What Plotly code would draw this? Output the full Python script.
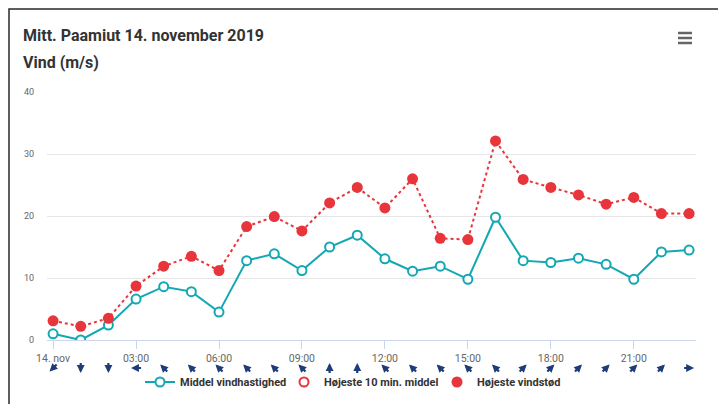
import math
import plotly.graph_objects as go

# ---------------- data ----------------
hours = list(range(24))
middel = [1.0, 0.0, 2.4, 6.6, 8.6, 7.8, 4.5, 12.8, 13.9, 11.2, 15.0, 16.9,
          13.1, 11.1, 11.9, 9.8, 19.8, 12.8, 12.5, 13.2, 12.2, 9.8, 14.2, 14.5]
vindstod = [3.1, 2.2, 3.5, 8.7, 11.9, 13.5, 11.2, 18.3, 19.9, 17.6, 22.1, 24.6,
            21.3, 26.0, 16.4, 16.2, 32.1, 25.9, 24.6, 23.4, 21.9, 23.0, 20.4, 20.4]
# direction each wind arrow points (compass bearing, degrees)
arrow_dir = [225, 180, 180, 270, 315, 315, 315, 315, 315, 315, 0, 0,
             315, 315, 315, 315, 315, 45, 45, 45, 45, 45, 45, 90]
tick_vals = [0, 3, 6, 9, 12, 15, 18, 21]
tick_text = ["14. nov", "03:00", "06:00", "09:00", "12:00", "15:00", "18:00", "21:00"]
y_ticks = [0, 10, 20, 30, 40]

title1 = "Mitt. Paamiut 14. november 2019"
title2 = "Vind (m/s)"
names = ["Middel vindhastighed", "Højeste 10 min. middel", "Højeste vindstød"]

# ---------------- style ----------------
OFF = 8                      # page body margin
W, H = 726 - OFF, 404 - OFF
ML, MR, MT, MB = 47 - OFF, 30, 92 - OFF, 64
PW, PH = W - ML - MR, H - MT - MB
TEAL = "#12a8b3"
RED = "#e8353b"
NAVY = "#1d3c78"
FONT = "Roboto, Arial, sans-serif"


def px(x):
    """screen x pixel -> paper coordinate"""
    return (x - OFF - ML) / PW


def py(y):
    """screen y pixel -> paper coordinate"""
    return (H - MB - (y - OFF)) / PH


fig = go.Figure()

fig.add_trace(go.Scatter(
    x=hours, y=vindstod, mode="lines", showlegend=False, hoverinfo="skip",
    line=dict(color=RED, width=2, dash="dot")))
fig.add_trace(go.Scatter(
    x=hours, y=middel, mode="lines+markers", name=names[0], legend="legend",
    line=dict(color=TEAL, width=2),
    marker=dict(symbol="circle", size=9, color="white", line=dict(color=TEAL, width=2))))
fig.add_trace(go.Scatter(
    x=[None], y=[None], mode="markers", name=names[1], legend="legend2",
    marker=dict(symbol="circle", size=9, color="white", line=dict(color=RED, width=2))))
fig.add_trace(go.Scatter(
    x=hours, y=vindstod, mode="markers", name=names[2], legend="legend3",
    marker=dict(symbol="circle", size=11, color=RED, line=dict(width=0))))

annotations = [
    dict(text=f"<b>{title1}</b>", xref="paper", yref="paper", x=px(21), y=py(36),
         xanchor="left", yanchor="middle", showarrow=False,
         font=dict(family=FONT, size=16, color="#333333")),
    dict(text=f"<b>{title2}</b>", xref="paper", yref="paper", x=px(21), y=py(62),
         xanchor="left", yanchor="middle", showarrow=False,
         font=dict(family=FONT, size=16, color="#333333")),
]

L = 10
for h, d in zip(hours, arrow_dir):
    sx = math.sin(math.radians(d))
    cy = math.cos(math.radians(d))
    annotations.append(dict(
        x=h, y=py(368), xref="x", yref="paper", text="", showarrow=True,
        font=dict(size=1), borderpad=0, borderwidth=0,
        ax=-L * sx, ay=L * cy, axref="pixel", ayref="pixel",
        xshift=L / 2 * sx, yshift=L / 2 * cy,
        arrowhead=2, arrowsize=0.72, arrowwidth=2.2, arrowcolor=NAVY, standoff=0))

shapes = [
    # container frame and shadow
    dict(type="rect", xref="paper", yref="paper", x0=px(720), x1=px(727), y0=py(12), y1=py(410),
         fillcolor="#9a9a9a", line=dict(width=0), layer="below"),
    dict(type="rect", xref="paper", yref="paper", x0=px(9), x1=px(719.5), y0=py(9), y1=py(410),
         fillcolor="rgba(0,0,0,0)", line=dict(color="#2a2a2a", width=1.5)),
]
# hamburger menu icon
for yy in (33, 38, 43):
    shapes.append(dict(type="line", xref="paper", yref="paper", x0=px(678), x1=px(692),
                       y0=py(yy), y1=py(yy), line=dict(color="#666666", width=2.5)))


def leg(left_px):
    return dict(orientation="h", xref="container", yref="container",
                x=(left_px - OFF) / W, xanchor="left",
                y=(H - (382 - OFF)) / H, yanchor="middle",
                font=dict(family=FONT, size=11, color="#333333", weight="bold"),
                itemwidth=30, bgcolor="rgba(0,0,0,0)")


fig.update_layout(
    width=W, height=H,
    margin=dict(l=ML, r=MR, t=MT, b=MB, autoexpand=False),
    paper_bgcolor="white", plot_bgcolor="white",
    font=dict(family=FONT, color="#666666"),
    showlegend=True,
    legend=leg(140), legend2=leg(284), legend3=leg(437),
    annotations=annotations,
    shapes=shapes,
    hovermode=False,
)
fig.update_xaxes(range=[-0.22, 23.25], tickvals=tick_vals, ticktext=tick_text,
                 showgrid=False, zeroline=False, showline=True, linecolor="#ccd6eb", linewidth=1,
                 ticks="outside", ticklen=8, tickcolor="#ccd6eb", tickwidth=1,
                 tickfont=dict(family=FONT, size=10.5, color="#666666"))
fig.update_yaxes(range=[0, 40], tickvals=y_ticks, showgrid=True, gridcolor="#e6e6e6",
                 zeroline=False, showline=False, ticks="", ticklabelstandoff=12,
                 tickfont=dict(family=FONT, size=9, color="#666666"))

fig.write_html("out.html")
